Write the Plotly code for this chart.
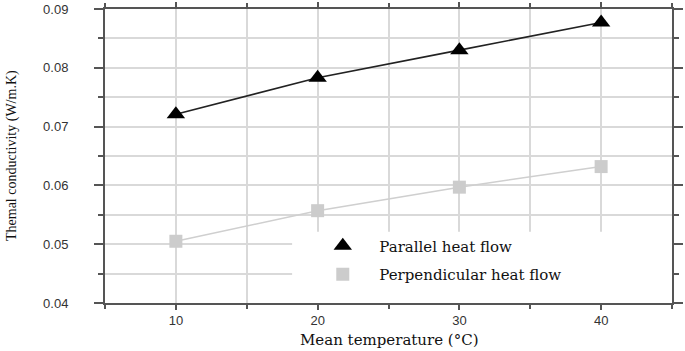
import plotly.graph_objects as go

temps = [10, 20, 30, 40]
parallel = [0.0721, 0.0783, 0.0830, 0.0877]
perpendicular = [0.0505, 0.0557, 0.0597, 0.0632]
series_names = ["Parallel heat flow", "Perpendicular heat flow"]
x_ticks = [10, 20, 30, 40]
y_ticks = [0.04, 0.05, 0.06, 0.07, 0.08, 0.09]
x_title = "Mean temperature (°C)"
y_title = "Themal conductivity (W/m.K)"

fig = go.Figure()
# connecting lines (not in legend)
fig.add_trace(go.Scatter(x=temps, y=parallel, mode="lines",
                         line=dict(color="#222222", width=1.6), showlegend=False, hoverinfo="skip"))
fig.add_trace(go.Scatter(x=temps, y=perpendicular, mode="lines",
                         line=dict(color="#cfcfcf", width=1.5), showlegend=False, hoverinfo="skip"))
# markers
fig.add_trace(go.Scatter(x=temps, y=parallel, mode="markers", name=series_names[0],
                         legendgroup="a",
                         marker=dict(symbol="triangle-up", size=16, color="#000000")))
fig.add_trace(go.Scatter(x=temps, y=perpendicular, mode="markers", name=series_names[1],
                         legendgroup="b",
                         marker=dict(symbol="square", size=13, color="#cccccc")))

# white legend backdrop covering gridlines
fig.add_shape(type="rect", xref="x", yref="y", x0=18.2, x1=45, y0=0.04, y1=0.0521,
              fillcolor="white", line=dict(width=0), layer="between")

grid_c = "#d9d9d9"
fig.update_xaxes(range=[5, 45], tickvals=x_ticks, ticks="outside", ticklen=5, tickwidth=1.5,
                 tickcolor="#555555", showline=True, linecolor="#555555", linewidth=1.5,
                 mirror="ticks", showgrid=True, gridcolor=grid_c, gridwidth=1.5,
                 minor=dict(dtick=5, tick0=5, showgrid=True, gridcolor=grid_c, gridwidth=1.5,
                            ticks="outside", ticklen=4, tickcolor="#555555"),
                 tickfont=dict(family="Liberation Sans, Arial", size=13, color="#333333"),
                 automargin=False, zeroline=False)
fig.update_yaxes(range=[0.04, 0.09], tickvals=y_ticks, tickformat=".2f", ticks="outside",
                 ticklen=9, tickwidth=1.5, tickcolor="#555555", showline=True,
                 linecolor="#555555", linewidth=2, mirror="ticks", showgrid=True,
                 gridcolor=grid_c, gridwidth=1.5,
                 minor=dict(dtick=0.005, tick0=0.04, showgrid=True, gridcolor=grid_c, gridwidth=1.5,
                            ticks="outside", ticklen=5, tickcolor="#555555"),
                 ticklabelstandoff=23,
                 tickfont=dict(family="Liberation Sans, Arial", size=13, color="#333333"),
                 automargin=False, zeroline=False)

fig.add_annotation(text=x_title, xref="paper", yref="paper", x=0.5026, y=-0.126,
                   xanchor="center", yanchor="middle", showarrow=False,
                   font=dict(family="DejaVu Serif", size=15, color="#111111"))
fig.add_annotation(text=y_title, xref="paper", yref="paper", x=-0.164, y=0.5,
                   xanchor="center", yanchor="middle", showarrow=False, textangle=-90,
                   font=dict(family="Liberation Serif", size=14, color="#111111"))

fig.update_layout(
    width=685, height=351,
    margin=dict(l=105, r=13, t=9, b=48, autoexpand=False),
    plot_bgcolor="white", paper_bgcolor="white",
    showlegend=True,
    legend=dict(x=0.355, y=0.25, xanchor="left", yanchor="top", bgcolor="rgba(0,0,0,0)",
                font=dict(family="DejaVu Serif", size=15, color="#111111"),
                tracegroupgap=6, traceorder="grouped", itemwidth=63),
)

fig.write_html("out.html", config={"displayModeBar": False},
               post_script="document.body.style.margin='0';document.body.style.overflow='hidden';")
